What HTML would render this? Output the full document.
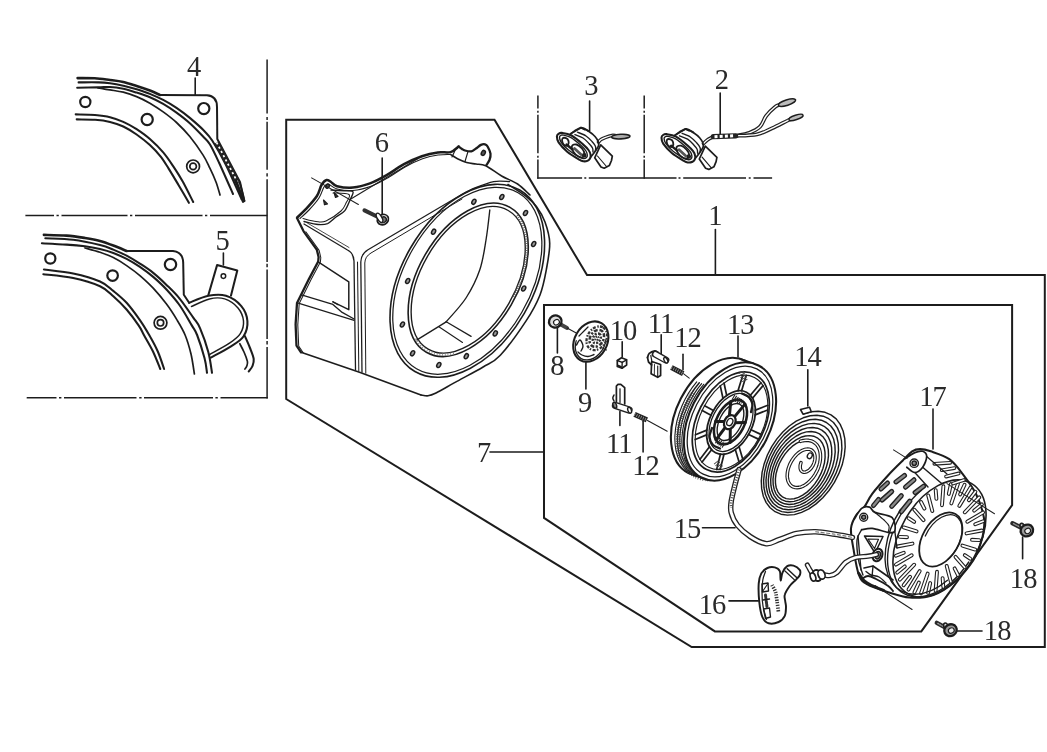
<!DOCTYPE html>
<html><head><meta charset="utf-8"><title>Parts diagram</title>
<style>html,body{margin:0;padding:0;background:#fff}svg{display:block}text{font-family:"Liberation Serif",serif;fill:#2a2a2a;stroke:none}</style></head>
<body>
<svg width="1047" height="752" viewBox="0 0 1047 752" fill="none" stroke="#1e1e1e" stroke-linecap="round" stroke-linejoin="round">
<defs><filter id="soft" x="-2%" y="-2%" width="104%" height="104%"><feGaussianBlur stdDeviation="0.32"/></filter></defs>
<rect x="0" y="0" width="1047" height="752" fill="#fff" stroke="none"/>
<g filter="url(#soft)">
<!-- frames -->
<path d="M286.2 119.8 L494.5 119.8 L587 275.1 L1044.8 275.1 L1044.8 647 L691.7 647 L286.2 399 Z" stroke-width="2.01" fill="none" stroke-linejoin="miter"/>
<path d="M544 305.1 L1012.1 305.1 L1012.1 505.1 L921.3 631.4 L714.9 631.4 L544 517.9 Z" stroke-width="2.01" fill="none" stroke-linejoin="miter"/>
<path d="M267.1 59.6 L267.1 113.4 M267.1 117 L267.1 119.9 M267.1 121.8 L267.1 169.7 M267.1 173.3 L267.1 176.4 M267.1 179.2 L267.1 261.9 M267.1 263.8 L267.1 267.2 M267.1 269.5 L267.1 339 M267.1 340.9 L267.1 344.5 M267.1 346.9 L267.1 398.4" stroke-width="1.5" stroke-linecap="butt"/>
<path d="M25.4 215.5 L54 215.5 M56.5 215.5 L58.8 215.5 M61.5 215.5 L127.5 215.5 M130 215.5 L132.3 215.5 M135 215.5 L202.5 215.5 M205 215.5 L207.3 215.5 M210 215.5 L267.4 215.5" stroke-width="1.5" stroke-linecap="butt"/>
<path d="M26.7 397.7 L56.5 397.7 M59 397.7 L61.4 397.7 M64 397.7 L136.5 397.7 M139.2 397.7 L141.6 397.7 M144 397.7 L213 397.7 M215.4 397.7 L217.8 397.7 M220.5 397.7 L267.8 397.7" stroke-width="1.5" stroke-linecap="butt"/>
<path d="M537.9 95.4 L537.9 108.6 M537.9 110.8 L537.9 112.8 M537.9 114.8 L537.9 153.3 M537.9 155.8 L537.9 157.8 M537.9 159.5 L537.9 178.8" stroke-width="1.5" stroke-linecap="butt"/>
<path d="M644.2 95.4 L644.2 108.6 M644.2 110.8 L644.2 112.8 M644.2 114.8 L644.2 153.3 M644.2 155.8 L644.2 157.8 M644.2 159.5 L644.2 178.8" stroke-width="1.5" stroke-linecap="butt"/>
<path d="M537.2 178.1 L582.1 178.1 M584.3 178.1 L586.3 178.1 M588.8 178.1 L676.5 178.1 M678.5 178.1 L680.5 178.1 M683.2 178.1 L746 178.1 M748.7 178.1 L750.7 178.1 M753.5 178.1 L772.1 178.1" stroke-width="1.5" stroke-linecap="butt"/>
<!-- labels -->
<line x1="195.2" y1="78" x2="195.2" y2="95" stroke-width="1.61" />
<line x1="223.4" y1="253" x2="223.4" y2="265" stroke-width="1.61" />
<line x1="382.2" y1="158" x2="382.2" y2="214" stroke-width="1.61" />
<line x1="589.6" y1="101" x2="589.6" y2="131" stroke-width="1.61" />
<line x1="720.2" y1="93" x2="720.2" y2="134" stroke-width="1.61" />
<line x1="715.4" y1="229.5" x2="715.4" y2="275" stroke-width="1.61" />
<line x1="490" y1="452" x2="544" y2="452" stroke-width="1.61" />
<line x1="557.4" y1="326.5" x2="557.4" y2="353" stroke-width="1.61" />
<line x1="585.9" y1="362.6" x2="585.9" y2="389" stroke-width="1.61" />
<line x1="622.2" y1="341.7" x2="622.2" y2="357" stroke-width="1.61" />
<line x1="661.2" y1="334.7" x2="661.2" y2="358.4" stroke-width="1.61" />
<line x1="683" y1="354.2" x2="683" y2="369.6" stroke-width="1.61" />
<line x1="619.9" y1="411.5" x2="619.9" y2="425.4" stroke-width="1.61" />
<line x1="643.1" y1="421.2" x2="643.1" y2="452" stroke-width="1.61" />
<line x1="738" y1="336" x2="738" y2="357" stroke-width="1.61" />
<line x1="807.8" y1="369.7" x2="807.8" y2="406" stroke-width="1.61" />
<line x1="702.5" y1="527.8" x2="735" y2="527.8" stroke-width="1.61" />
<line x1="729" y1="600.9" x2="758.3" y2="600.9" stroke-width="1.61" />
<line x1="933" y1="409" x2="933" y2="449" stroke-width="1.61" />
<line x1="1022.6" y1="537" x2="1022.6" y2="558.7" stroke-width="1.61" />
<line x1="957" y1="631" x2="982" y2="631" stroke-width="1.61" />
<text x="194" y="75.8" font-size="28.5" text-anchor="middle">4</text>
<text x="222.7" y="249.8" font-size="28.5" text-anchor="middle">5</text>
<text x="381.8" y="152.3" font-size="28.5" text-anchor="middle">6</text>
<text x="591.3" y="95.4" font-size="28.5" text-anchor="middle">3</text>
<text x="721.8" y="89.1" font-size="28.5" text-anchor="middle">2</text>
<text x="715.4" y="225.4" font-size="28.5" text-anchor="middle">1</text>
<text x="484" y="461.8" font-size="28.5" text-anchor="middle">7</text>
<text x="557.4" y="374.8" font-size="28.5" text-anchor="middle">8</text>
<text x="585" y="412.3" font-size="28.5" text-anchor="middle">9</text>
<text x="623" y="339.8" font-size="28.5" text-anchor="middle" letter-spacing="-0.9">10</text>
<text x="660.5" y="332.8" font-size="28.5" text-anchor="middle" letter-spacing="-0.9">11</text>
<text x="687.5" y="346.8" font-size="28.5" text-anchor="middle" letter-spacing="-0.9">12</text>
<text x="618.9" y="452.8" font-size="28.5" text-anchor="middle" letter-spacing="-0.9">11</text>
<text x="645.5" y="475.1" font-size="28.5" text-anchor="middle" letter-spacing="-0.9">12</text>
<text x="740.3" y="334.1" font-size="28.5" text-anchor="middle" letter-spacing="-0.9">13</text>
<text x="807.5" y="366" font-size="28.5" text-anchor="middle" letter-spacing="-0.9">14</text>
<text x="687.1" y="537.9" font-size="28.5" text-anchor="middle" letter-spacing="-0.9">15</text>
<text x="712" y="613.8" font-size="28.5" text-anchor="middle" letter-spacing="-0.9">16</text>
<text x="932.5" y="405.8" font-size="28.5" text-anchor="middle" letter-spacing="-0.9">17</text>
<text x="1023.2" y="587.8" font-size="28.5" text-anchor="middle" letter-spacing="-0.9">18</text>
<text x="997.2" y="639.8" font-size="28.5" text-anchor="middle" letter-spacing="-0.9">18</text>
<!-- inset 4 -->
<path d="M77.6 78.1 C80.5 78.1 89.4 78 94.8 78.3 C100.2 78.6 105.2 79.4 110 80 C114.8 80.6 118.9 81 123.3 82 C127.7 83 132.2 84.6 136.6 86 C141 87.4 146 89.1 149.9 90.6 C153.8 92.1 158.2 94.3 159.9 95" stroke-width="2.64" fill="none" />
<path d="M159.9 95 L207 95.3 Q217 96 217 107 L217.3 139 L240 182 L244.4 201" stroke-width="2.0"/>
<path d="M78.6 82.4 C81.9 82.4 93.5 82.2 98.7 82.4 C103.9 82.6 105.9 82.8 110 83.3 C114.1 83.8 118.9 84.7 123.3 85.7 C127.7 86.7 132.2 87.9 136.6 89.3 C141 90.7 145.5 92.1 149.9 93.9 C154.3 95.7 158.8 97.6 163.2 99.9 C167.6 102.2 172.1 104.9 176.5 107.9 C180.9 110.9 185.4 114.2 189.8 117.9 C194.2 121.6 199.4 126 203.1 129.8 C206.8 133.6 208.4 134.6 212.2 140.5 C216 146.4 221.1 155.2 226 165 C230.9 174.8 239 193.6 241.6 199.3" stroke-width="2.07" fill="none" />
<path d="M77.2 87.8 C80.7 87.7 92.5 87.5 98 87.4 C103.5 87.3 105.8 86.8 110 87 C114.2 87.2 118.9 87.9 123.3 88.8 C127.7 89.7 132.2 91.2 136.6 92.6 C141 94 145.5 95.4 149.9 97.3 C154.3 99.2 158.8 101.4 163.2 103.9 C167.6 106.5 172.1 109.4 176.5 112.6 C180.9 115.8 185.4 119.2 189.8 123.2 C194.2 127.2 199.7 132.9 203.1 136.5 C206.5 140.1 207.3 140.1 210 144.5 C212.7 148.9 215.4 154.8 219.2 163 C223 171.2 230.7 188.8 233 194" stroke-width="2.07" fill="none" />
<path d="M98 87.8 C100 88.2 105.8 89.2 110 89.9 C114.2 90.6 118.9 91.1 123.3 92.2 C127.7 93.3 132.2 94.8 136.6 96.6 C141 98.4 145.5 100.7 149.9 103.2 C154.3 105.8 158.8 108.7 163.2 111.9 C167.6 115.1 172.1 118.4 176.5 122.5 C180.9 126.6 185.4 131.1 189.8 136.5 C194.2 141.9 199.7 149.8 203.1 155.1 C206.5 160.4 207.8 163.9 210 168.4 C212.2 172.9 214.3 177.6 216 182 C217.7 186.4 219.3 192.8 220 195" stroke-width="1.72" fill="none" />
<path d="M75.7 114.4 C78.9 114.5 89.3 114.5 95 115 C100.7 115.5 105.3 116 110 117.2 C114.7 118.4 118.9 119.9 123.3 121.9 C127.7 123.9 132.2 126.3 136.6 129.2 C141 132.1 145.5 135.2 149.9 139.1 C154.3 143 159.2 147.7 163.2 152.4 C167.2 157.1 170.5 162.2 173.8 167.1 C177.1 172 179.8 176.2 183 182 C186.2 187.8 191.5 198.7 193.2 202" stroke-width="2.07" fill="none" />
<path d="M76.7 119.4 C79.8 119.5 89.5 119.4 95 119.8 C100.5 120.2 105.3 120.8 110 121.9 C114.7 123 118.9 124.4 123.3 126.5 C127.7 128.6 132.2 131.4 136.6 134.5 C141 137.6 145.9 141.4 149.9 145.1 C153.9 148.8 157.4 152.5 160.5 156.4 C163.6 160.3 165.5 163.6 168.5 168.4 C171.5 173.2 175.1 179.3 178.5 185 C181.9 190.7 187.2 199.8 188.9 202.8" stroke-width="2.07" fill="none" />
<circle cx="85.3" cy="102" r="5.1" stroke-width="2.18" fill="none" />
<circle cx="147.2" cy="119.5" r="5.6" stroke-width="2.18" fill="none" />
<circle cx="203.8" cy="108.6" r="5.6" stroke-width="2.18" fill="none" />
<circle cx="193.1" cy="166.4" r="6.4" stroke-width="1.72" fill="none" />
<circle cx="193.1" cy="166.4" r="3.3" stroke-width="1.72" fill="none" />
<line x1="216.6" y1="142.5" x2="238.2" y2="183.5" stroke-width="4.83" stroke="#222" stroke-linecap="butt"/>
<line x1="216.6" y1="142.5" x2="238.2" y2="183.5" stroke-width="1.72" stroke="#fff" stroke-dasharray="2.2 2.6" stroke-linecap="butt"/>
<path d="M236 181 L240.5 193 L243.2 201.5" stroke-width="2.76" fill="none" />
<path d="M239.8 183 L242.5 193 L244.4 201" stroke-width="1.84" fill="none" />
<!-- inset 5 -->
<path d="M43.9 234.9 C47.7 235 59.6 235.1 66.5 235.6 C73.3 236.1 79.4 237.1 85 238 C90.6 238.9 95.3 239.7 100 241 C104.7 242.3 108.9 243.9 113.3 245.6 C117.7 247.3 124.4 250.1 126.6 251" stroke-width="2.64" fill="none" />
<path d="M126.6 251 L173 251 Q183 252 183.2 263 L183.8 294.8 L189.1 302.8" stroke-width="2.0"/>
<path d="M45.3 238.3 C49.9 238.6 64.1 238.7 73.2 239.8 C82.3 240.9 93.3 243.4 100 245 C106.7 246.6 108.9 247.8 113.3 249.6 C117.7 251.4 122.2 253.3 126.6 255.6 C131 257.9 135.5 260.7 139.9 263.6 C144.3 266.5 148.8 269.3 153.2 272.9 C157.6 276.4 162.1 280.6 166.5 284.9 C170.9 289.2 175.4 293.4 179.8 298.8 C184.2 304.2 189.7 312.5 193.1 317.4 C196.5 322.3 197.5 322.3 200 328.1 C202.5 333.9 206.3 344.6 208.3 352 C210.3 359.4 211.4 369.3 212 372.8" stroke-width="2.07" fill="none" />
<path d="M41.9 243.3 C46 243.5 59.3 244.1 66.5 244.6 C73.7 245.1 79.4 245.6 85 246.3 C90.6 247 95.3 247.9 100 249 C104.7 250.1 108.9 251.3 113.3 253 C117.7 254.7 122.2 256.6 126.6 258.9 C131 261.2 135.5 263.9 139.9 266.9 C144.3 269.9 148.8 273.1 153.2 276.9 C157.6 280.7 162.1 284.7 166.5 289.5 C170.9 294.3 175.6 299.5 179.8 305.5 C184 311.5 188.9 320.5 191.8 325.4 C194.7 330.3 195 329.6 197.1 335 C199.2 340.4 202.8 351.7 204.5 358 C206.2 364.3 206.6 370.3 207 372.8" stroke-width="2.07" fill="none" />
<path d="M85 248 C87.5 248.7 95.3 250.7 100 252.3 C104.7 253.9 108.9 255.4 113.3 257.6 C117.7 259.8 122.2 262.6 126.6 265.6 C131 268.6 135.5 271.8 139.9 275.6 C144.3 279.4 148.8 283.4 153.2 288.2 C157.6 292.9 162.5 298.8 166.5 304.1 C170.5 309.4 174 315 177.1 320.1 C180.2 325.2 182.8 329.4 185.1 335 C187.4 340.6 189.4 347.5 191 354 C192.6 360.5 193.8 370.7 194.4 374" stroke-width="1.72" fill="none" />
<path d="M43.9 269.5 C48.8 270.2 63.9 271.5 73.2 273.5 C82.5 275.5 93.3 278.6 100 281.5 C106.7 284.4 108.9 287.3 113.3 290.9 C117.7 294.4 122.2 297.9 126.6 302.8 C131 307.7 136.1 314.7 139.9 320.1 C143.7 325.5 146.2 329.8 149.2 335 C152.2 340.2 155.3 345.8 157.8 351.5 C160.3 357.2 163.1 366.1 164.1 369" stroke-width="2.07" fill="none" />
<path d="M43.3 274.2 C48.3 274.8 63.8 276 73.2 278 C82.7 280 93.3 283.2 100 286.2 C106.7 289.2 108.9 292.3 113.3 296.2 C117.7 300.1 122.4 304.6 126.6 309.5 C130.8 314.4 135.7 321.1 138.6 325.4 C141.5 329.6 141.5 330.6 143.9 335 C146.3 339.4 150.3 345.8 153 351.5 C155.7 357.2 159.1 366.1 160.3 369" stroke-width="2.07" fill="none" />
<circle cx="50.3" cy="258.5" r="5.1" stroke-width="2.18" fill="none" />
<circle cx="112.6" cy="275.6" r="5.3" stroke-width="2.18" fill="none" />
<circle cx="170.5" cy="264.5" r="5.7" stroke-width="2.18" fill="none" />
<circle cx="160.5" cy="322.8" r="6.4" stroke-width="1.72" fill="none" />
<circle cx="160.5" cy="322.8" r="3.2" stroke-width="1.72" fill="none" />
<path d="M189.1 302.8 C192.3 301.6 202.2 297 208.3 295.8 C214.5 294.6 220.5 294.1 226 295.8 C231.5 297.5 237.5 301.7 241.1 305.9 C244.7 310.1 247 315.9 247.4 321 C247.8 326.1 246.3 332 243.6 336.2 C240.9 340.4 236.5 342.7 231 346.3 C225.5 349.9 214.2 355.7 210.8 357.6" stroke-width="2.07" fill="none" />
<path d="M191.5 306.5 C194.5 305.2 204 300.2 209.5 298.9 C215 297.6 219.9 297.4 224.7 298.9 C229.4 300.4 234.9 304.3 238 308 C241.1 311.7 243.1 316.7 243.5 321 C243.9 325.3 242.6 329.9 240.3 333.6 C238 337.3 234.6 339.7 229.5 343.2 C224.4 346.7 212.8 352.7 209.5 354.6" stroke-width="1.49" fill="none" />
<path d="M208.3 295.3 L217.1 265 L237.3 270.5 L231 295.6" stroke-width="2.07" fill="none" />
<circle cx="223.4" cy="276.1" r="2.3" stroke-width="1.49" fill="none" />
<path d="M244.9 336.2 C245.8 338.2 248.5 344.2 250 348 C251.5 351.8 253.3 355.9 253.7 358.9 C254.1 361.9 253.3 363.9 252.5 366 C251.7 368.1 249.3 370.6 248.7 371.5" stroke-width="2.07" fill="none" />
<path d="M239.8 343.7 C240.5 345.1 242.7 349.1 244 352 C245.3 354.9 246.9 359.1 247.4 361.4 C247.9 363.7 247.2 364.7 246.8 366 C246.4 367.3 245.2 368.5 244.9 369" stroke-width="1.72" fill="none" />
<!-- housing -->
<ellipse cx="467.3" cy="280.8" rx="104.8" ry="65.6" transform="rotate(-60 467.3 280.8)" stroke-width="1.61" fill="none" />
<ellipse cx="467.3" cy="280.8" rx="101.6" ry="63" transform="rotate(-60 467.3 280.8)" stroke-width="1.26" fill="none" />
<ellipse cx="468.2" cy="279.8" rx="83.6" ry="49.8" transform="rotate(-60 468.2 279.8)" stroke-width="1.61" fill="none" />
<ellipse cx="468.2" cy="279.8" rx="80" ry="47" transform="rotate(-60 468.2 279.8)" stroke-width="1.38" fill="none" />
<path d="M508 184.5 C511.1 186.5 521.7 192.9 526.4 196.6 C531.1 200.3 533.3 202.4 536.4 206.6 C539.5 210.8 542.8 215.9 545 222 C547.2 228.1 549.5 235.2 549.7 243.2 C549.9 251.2 547.9 261.1 546.3 269.8 C544.7 278.5 543.3 286.7 539.9 295.2 C536.5 303.7 532.7 310.9 526.1 320.9 C519.5 330.9 507.5 347.6 500.3 355.3 C493.1 363 490.2 362.7 483.1 367 C476 371.3 465.2 376.8 457.4 381.1 C449.5 385.4 440.9 390.6 436 393 C431.1 395.4 430.5 395.5 428 395.8 C425.5 396.1 422.2 395.1 421 395" stroke-width="1.61" fill="none" />
<path d="M516.9 215.5 A81.8 48.4 -60 0 1 513.5 297.7" stroke-width="2.99" fill="none" stroke="#555" stroke-dasharray="0.8 1.5" stroke-linecap="butt"/>
<path d="M453.7 353.2 A81.8 48.4 -60 0 1 415.4 338.1" stroke-width="2.76" fill="none" stroke="#777" stroke-dasharray="0.7 2" stroke-linecap="butt"/>
<ellipse cx="473.9" cy="201.8" rx="2.7" ry="1.8" transform="rotate(-60 473.9 201.8)" stroke-width="1.49" fill="#999" />
<ellipse cx="501.8" cy="197" rx="2.7" ry="1.8" transform="rotate(-60 501.8 197)" stroke-width="1.49" fill="#999" />
<ellipse cx="525.5" cy="213" rx="2.7" ry="1.8" transform="rotate(-60 525.5 213)" stroke-width="1.49" fill="#999" />
<ellipse cx="533.7" cy="244" rx="2.7" ry="1.8" transform="rotate(-60 533.7 244)" stroke-width="1.49" fill="#999" />
<ellipse cx="523.7" cy="288.5" rx="2.7" ry="1.8" transform="rotate(-60 523.7 288.5)" stroke-width="1.49" fill="#999" />
<ellipse cx="495.3" cy="333.4" rx="2.7" ry="1.8" transform="rotate(-60 495.3 333.4)" stroke-width="1.49" fill="#999" />
<ellipse cx="466.3" cy="356.2" rx="2.7" ry="1.8" transform="rotate(-60 466.3 356.2)" stroke-width="1.49" fill="#999" />
<ellipse cx="438.8" cy="365" rx="2.7" ry="1.8" transform="rotate(-60 438.8 365)" stroke-width="1.49" fill="#999" />
<ellipse cx="412.6" cy="353.3" rx="2.7" ry="1.8" transform="rotate(-60 412.6 353.3)" stroke-width="1.49" fill="#999" />
<ellipse cx="402.4" cy="324.5" rx="2.7" ry="1.8" transform="rotate(-60 402.4 324.5)" stroke-width="1.49" fill="#999" />
<ellipse cx="407.7" cy="281" rx="2.7" ry="1.8" transform="rotate(-60 407.7 281)" stroke-width="1.49" fill="#999" />
<ellipse cx="433.6" cy="231.7" rx="2.7" ry="1.8" transform="rotate(-60 433.6 231.7)" stroke-width="1.49" fill="#999" />
<path d="M489.8 210 C489.2 215 487.7 230 486 240 C484.3 250 483.1 260.1 479.8 269.8 C476.5 279.5 471.6 289.3 466 298 C460.4 306.7 449.5 317.8 446.2 321.8" stroke-width="1.38" fill="none" />
<line x1="446.2" y1="321.8" x2="417" y2="339.9" stroke-width="1.38" />
<line x1="446.2" y1="321.8" x2="471.1" y2="336.4" stroke-width="1.26" />
<line x1="438.5" y1="326.5" x2="462.5" y2="342.4" stroke-width="1.15" />
<path d="M297.2 217.5 C298.7 216 303 212.3 306.3 208.7 C309.6 205.1 314.4 199.9 316.9 196 C319.4 192.1 319.9 187.7 321.5 185 C323.1 182.3 324.9 180.5 326.5 180 C328.1 179.5 329.2 181 331 182 C332.8 183 333.3 185.3 337 186.2 C340.7 187.1 347.5 188.1 353 187.6 C358.5 187.1 364.3 185.5 370 183.4 C375.7 181.3 381.3 178.1 387 174.9 C392.7 171.7 398.2 167.3 404 164.2 C409.8 161.1 416.3 158.3 421.9 156.3 C427.5 154.3 433 153.1 437.8 152.4 C442.6 151.7 447.1 153.1 450.6 152.1 C454.1 151.1 457.3 147.4 458.6 146.5" stroke-width="2.53" fill="none" />
<path d="M458.6 146.5 C459.2 146.9 460.9 148.3 462 149 C463.1 149.7 463.4 150.1 465 150.5 C466.6 150.9 469.5 151.6 471.3 151.3 C473.1 151 474.4 149.6 476 148.5 C477.6 147.4 479.4 145.6 480.9 144.9 C482.4 144.2 483.9 144 485 144.3 C486.1 144.6 486.7 144.9 487.6 146.5 C488.5 148.1 490.2 151.4 490.5 153.7 C490.8 155.9 490.2 158.1 489.5 160 C488.8 161.9 487 164.1 486.5 164.9" stroke-width="2.30" fill="none" />
<path d="M300 218.5 C301.5 217.1 305.8 213.4 309 210 C312.2 206.6 316.5 201.8 319 198 C321.5 194.2 322.5 189.3 324 187 C325.5 184.7 325.8 183.7 328 184 C330.2 184.3 332.8 187.9 337 189 C341.2 190.1 347.3 191 353 190.5 C358.7 190 365.2 188.3 371 186.2 C376.8 184.1 382.3 180.9 388 177.7 C393.7 174.5 399.2 170.2 405 167 C410.8 163.8 417 160.8 422.5 158.8 C428 156.8 433.3 155.7 438 155 C442.7 154.3 448.5 154.6 450.6 154.5" stroke-width="1.15" fill="none" />
<path d="M450.6 154.5 C451.8 155.2 455.3 157.7 458 159 C460.7 160.3 463.6 161.7 466.6 162.5 C469.6 163.3 472.8 163.5 476 164 C479.2 164.5 481.4 163.7 485.7 165.7 C490 167.7 496.3 172.9 501.6 176 C506.9 179.1 512.9 180.8 517.6 184 C522.3 187.2 527.9 193.2 530 195" stroke-width="1.61" fill="none" />
<line x1="455" y1="150.5" x2="452" y2="157" stroke-width="1.15" />
<line x1="468" y1="151.5" x2="465" y2="161.5" stroke-width="1.15" />
<ellipse cx="483.3" cy="152.9" rx="2.6" ry="1.8" transform="rotate(-60 483.3 152.9)" stroke-width="1.49" fill="#555" />
<ellipse cx="327.6" cy="186.2" rx="2.2" ry="1.6" transform="rotate(-60 327.6 186.2)" stroke-width="1.49" fill="#555" />
<line x1="311.6" y1="177.9" x2="358.4" y2="204.5" stroke-width="1.03" />
<path d="M331 190 C333.3 190.1 341.3 190.5 345 190.8 C348.7 191.1 352.2 190.2 353 191.7 C353.8 193.2 351.4 196.8 350 200 C348.6 203.2 346.9 208.1 344.6 210.9 C342.3 213.7 338.8 214.9 336 217 C333.2 219.1 330.6 222.3 327.6 223.6 C324.6 224.8 321.9 224.8 318 224.5 C314.1 224.2 306.3 222 304 221.5" stroke-width="1.38" fill="none" />
<path d="M333 193 C335.7 193.2 346.8 192.8 349 194.5 C351.2 196.2 347.3 200.2 346 203 C344.7 205.8 344.3 208 341 211 C337.7 214 330.2 219.2 326 221 C321.8 222.8 319.8 221.9 316 221.5 C312.2 221.1 305.2 219 303 218.5" stroke-width="1.03" fill="none" />
<path d="M334 192.5 L338 196.5 L335.5 197.5 Z" stroke-width="1.15" fill="#333" />
<path d="M323.5 200 L327.5 204 L324.5 204.8 Z" stroke-width="1.15" fill="#333" />
<line x1="350" y1="199.5" x2="418" y2="158.5" stroke-width="1.15" />
<path d="M297 218 L303.6 231.3 L316.9 249.9 L318.6 257 L318.2 261.5 L308.9 279.1 L301 295.1 L297 303.1 L295.6 324.4 L296.5 345.6 L301 352.3" stroke-width="2.30" fill="none" />
<path d="M305.8 231.8 L319.1 250.4 L320.8 257.5 L320.4 262 L311.1 279.6 L303.2 295.6 L299.2 303.6 L297.8 324.9 L298.7 346.1 L303.2 352.8" stroke-width="1.03" fill="none" />
<path d="M301 352.3 L359.5 372.2 L421 395" stroke-width="1.72" fill="none" />
<path d="M304 224 L347.5 250 Q353.5 253 354 261 L355.5 369.8" stroke-width="1.3"/>
<path d="M306.5 222.5 L349 247.5" stroke-width="0.8"/>
<line x1="357.5" y1="262" x2="358.8" y2="371" stroke-width="1.03" />
<path d="M362 372 L360.8 262 Q361 254 368 249.8 L460 195.5" stroke-width="1.3"/>
<path d="M365.8 373.3 L364.8 263 Q365 256.5 371 253 L462 199" stroke-width="1.0"/>
<path d="M460 195.5 C462.5 194.2 469.4 190.3 475 188 C480.6 185.7 487.9 182.7 493.7 181.6 C499.5 180.5 507 181.6 509.6 181.6" stroke-width="1.38" fill="none" />
<path d="M318.2 261.9 L348.8 281.8 L348.8 309.7 L332.9 301.8" stroke-width="1.49" fill="none" />
<path d="M302.3 295.1 L332.9 304.4 L342.2 312.4 L354.1 319" stroke-width="1.38" fill="none" />
<line x1="298.3" y1="303.1" x2="354.1" y2="320.4" stroke-width="1.15" />
<line x1="332.9" y1="301.8" x2="338" y2="304.8" stroke-width="1.15" />
<line x1="364.5" y1="210.3" x2="378" y2="217" stroke-width="4.14" stroke="#333"/>
<ellipse cx="382.9" cy="219.6" rx="5.8" ry="5" transform="rotate(-30 382.9 219.6)" stroke-width="1.72" fill="#fff" />
<ellipse cx="383.2" cy="219.8" rx="3.3" ry="2.8" transform="rotate(-30 383.2 219.8)" stroke-width="1.38" fill="#777" />
<ellipse cx="379.5" cy="217.8" rx="2.2" ry="5.2" transform="rotate(-30 379.5 217.8)" stroke-width="1.38" fill="#fff" />
<!-- switches -->
<path d="M598.5 142 C598.9 141.6 599.9 140.2 601 139.5 C602.1 138.8 603.2 138.3 605 137.6 C606.8 136.9 610.1 135.8 611.9 135.5 C613.7 135.2 615.3 135.8 616 135.8" stroke-width="3.68" fill="none" stroke="#222"/>
<path d="M598.5 142 C598.9 141.6 599.9 140.2 601 139.5 C602.1 138.8 603.2 138.3 605 137.6 C606.8 136.9 610.1 135.8 611.9 135.5 C613.7 135.2 615.3 135.8 616 135.8" stroke-width="1.26" fill="none" stroke="#fff"/>
<ellipse cx="620.8" cy="136.6" rx="9.2" ry="2.3" transform="rotate(-3 620.8 136.6)" stroke-width="1.61" fill="#aaa" />
<g transform="translate(0 0)">
<path d="M600.7 144.9 L612.3 156.1 L611.5 160.5 L609.3 165.6 L604.2 168.2 L601 167 L594.7 157.8 Z" stroke-width="1.72" fill="#fff" />
<line x1="597.5" y1="156" x2="606.5" y2="166.5" stroke-width="1.15" />
<path d="M570.6 133.8 C572.3 132.8 578 128.1 581 127.7 C584 127.3 587.4 130.6 588.7 131.2" stroke-width="1.72" fill="none" />
<path d="M570.6 133.8 L581 127.7 L584.5 129.5" stroke-width="1.72" fill="none" />
<path d="M581 127.7 C582.3 128.3 586.7 130 589 131.5 C591.3 133 593.5 134.8 595 136.5 C596.5 138.2 597.6 140 598.2 141.5 C598.8 143 598.9 144.2 598.6 145.5 C598.3 146.8 597.5 147.8 596.4 149.5 C595.3 151.2 593.4 153.7 592 155.5 C590.6 157.3 588.5 159.6 587.8 160.4" stroke-width="1.72" fill="none" />
<path d="M574.9 134.6 C576.2 135.2 580.6 136.5 583 138 C585.4 139.5 587.4 141.8 589 143.5 C590.6 145.2 591.8 146.6 592.5 148 C593.2 149.4 592.9 151.3 593 152" stroke-width="1.38" fill="none" />
<path d="M577.5 132.2 C578.9 132.8 583.6 134.4 586 136 C588.4 137.6 590.4 139.8 592 141.5 C593.6 143.2 594.9 145 595.5 146.5 C596.1 148 595.5 149.8 595.5 150.5" stroke-width="1.38" fill="none" />
<path d="M556.9 136.6 C556.9 135.2 557.6 134.4 558.5 133.8 C559.4 133.2 559.8 132.6 562 132.9 C564.2 133.2 568 133.6 571.5 135.5 C575 137.4 579.9 141.7 582.7 144.1 C585.5 146.5 587.2 148.2 588.5 150 C589.8 151.8 590.4 153.4 590.6 154.8 C590.9 156.2 590.5 157.5 590 158.5 C589.5 159.5 588.9 160.1 587.8 160.6 C586.7 161.1 584.9 161.5 583.5 161.3 C582.1 161.1 581.9 161.2 579.2 159.6 C576.5 158 570.6 154.7 567.2 151.8 C563.8 148.9 560.3 144.9 558.6 142.4 C556.9 139.9 556.9 138 556.9 136.6 Z" stroke-width="2.07" fill="#fff" />
<path d="M559.5 137 C559.5 135.9 560.3 135.6 561 135.3 C561.7 135 561.8 134.8 563.5 135.2 C565.2 135.6 568.2 136 571 137.6 C573.8 139.2 578 142.8 580.5 145 C583 147.2 584.9 149.3 586 151 C587.1 152.7 587.2 153.9 587.3 155 C587.4 156.1 587.1 156.9 586.5 157.5 C585.9 158.1 584.7 158.6 583.5 158.5 C582.3 158.4 582 158.6 579.5 157.2 C577 155.8 571.6 152.5 568.5 150 C565.4 147.5 562.5 144.2 561 142 C559.5 139.8 559.5 138.1 559.5 137 Z" stroke-width="1.38" fill="none" />
<path d="M562.5 138.5 C563.1 137.8 565 137.8 566 138.2 C567 138.6 568.2 139.9 568.5 141 C568.8 142.1 568.6 144.2 568 145 C567.4 145.8 565.9 145.9 565 145.5 C564.1 145.1 562.9 143.7 562.5 142.5 C562.1 141.3 561.9 139.2 562.5 138.5 Z" stroke-width="1.84" fill="none" />
<path d="M572 146 C572.5 144.8 574.8 144.1 576.5 144.5 C578.2 144.9 580.7 147 582 148.5 C583.3 150 584.3 152.1 584.5 153.5 C584.7 154.9 584 156.5 583 157 C582 157.5 580.1 157.3 578.5 156.5 C576.9 155.7 574.6 153.8 573.5 152 C572.4 150.2 571.5 147.2 572 146 Z" stroke-width="1.84" fill="none" />
<line x1="574.5" y1="148.5" x2="581" y2="154.5" stroke-width="2.76" stroke="#555"/>
<circle cx="584.2" cy="155.3" r="1.6" stroke-width="1.38" fill="#222" />
<line x1="566.5" y1="144.5" x2="572.5" y2="149.5" stroke-width="2.30" />
</g>
<path d="M703.5 143.5 C704.2 142.8 706.4 140.6 708 139.5 C709.6 138.4 712.5 137.2 713.4 136.8" stroke-width="3.68" fill="none" stroke="#222"/>
<path d="M703.5 143.5 C704.2 142.8 706.4 140.6 708 139.5 C709.6 138.4 712.5 137.2 713.4 136.8" stroke-width="1.26" fill="none" stroke="#fff"/>
<path d="M735.6 135.8 C737.9 135.3 745.2 134.3 749.3 132.8 C753.4 131.3 757.2 129.5 760 126.7 C762.8 123.9 763.6 119.3 766.1 116 C768.6 112.7 773.1 108.6 775.3 106.8 C777.4 105 778.4 105.3 779 105" stroke-width="3.79" fill="none" stroke="#222"/>
<path d="M735.6 135.8 C737.9 135.3 745.2 134.3 749.3 132.8 C753.4 131.3 757.2 129.5 760 126.7 C762.8 123.9 763.6 119.3 766.1 116 C768.6 112.7 773.1 108.6 775.3 106.8 C777.4 105 778.4 105.3 779 105" stroke-width="1.38" fill="none" stroke="#fff"/>
<path d="M735.6 135.8 C739.2 135.6 750.9 135.6 757 134.3 C763.1 133 767.1 130.5 772.2 128.2 C777.3 125.9 784.5 122 787.5 120.6 C790.5 119.1 789.6 119.7 790 119.5" stroke-width="3.79" fill="none" stroke="#222"/>
<path d="M735.6 135.8 C739.2 135.6 750.9 135.6 757 134.3 C763.1 133 767.1 130.5 772.2 128.2 C777.3 125.9 784.5 122 787.5 120.6 C790.5 119.1 789.6 119.7 790 119.5" stroke-width="1.38" fill="none" stroke="#fff"/>
<line x1="713.4" y1="136.7" x2="735.6" y2="135.8" stroke-width="5.29" stroke="#222"/>
<line x1="714.5" y1="136.7" x2="734.5" y2="135.8" stroke-width="2.99" stroke="#fff" stroke-dasharray="3 2.2" stroke-linecap="butt"/>
<ellipse cx="787" cy="102.6" rx="9" ry="2.7" transform="rotate(-18 787 102.6)" stroke-width="1.49" fill="#bbb" />
<ellipse cx="796" cy="117.4" rx="7.4" ry="2.2" transform="rotate(-18 796 117.4)" stroke-width="1.49" fill="#bbb" />
<g transform="translate(104.6 1.2)">
<path d="M600.7 144.9 L612.3 156.1 L611.5 160.5 L609.3 165.6 L604.2 168.2 L601 167 L594.7 157.8 Z" stroke-width="1.72" fill="#fff" />
<line x1="597.5" y1="156" x2="606.5" y2="166.5" stroke-width="1.15" />
<path d="M570.6 133.8 C572.3 132.8 578 128.1 581 127.7 C584 127.3 587.4 130.6 588.7 131.2" stroke-width="1.72" fill="none" />
<path d="M570.6 133.8 L581 127.7 L584.5 129.5" stroke-width="1.72" fill="none" />
<path d="M581 127.7 C582.3 128.3 586.7 130 589 131.5 C591.3 133 593.5 134.8 595 136.5 C596.5 138.2 597.6 140 598.2 141.5 C598.8 143 598.9 144.2 598.6 145.5 C598.3 146.8 597.5 147.8 596.4 149.5 C595.3 151.2 593.4 153.7 592 155.5 C590.6 157.3 588.5 159.6 587.8 160.4" stroke-width="1.72" fill="none" />
<path d="M574.9 134.6 C576.2 135.2 580.6 136.5 583 138 C585.4 139.5 587.4 141.8 589 143.5 C590.6 145.2 591.8 146.6 592.5 148 C593.2 149.4 592.9 151.3 593 152" stroke-width="1.38" fill="none" />
<path d="M577.5 132.2 C578.9 132.8 583.6 134.4 586 136 C588.4 137.6 590.4 139.8 592 141.5 C593.6 143.2 594.9 145 595.5 146.5 C596.1 148 595.5 149.8 595.5 150.5" stroke-width="1.38" fill="none" />
<path d="M556.9 136.6 C556.9 135.2 557.6 134.4 558.5 133.8 C559.4 133.2 559.8 132.6 562 132.9 C564.2 133.2 568 133.6 571.5 135.5 C575 137.4 579.9 141.7 582.7 144.1 C585.5 146.5 587.2 148.2 588.5 150 C589.8 151.8 590.4 153.4 590.6 154.8 C590.9 156.2 590.5 157.5 590 158.5 C589.5 159.5 588.9 160.1 587.8 160.6 C586.7 161.1 584.9 161.5 583.5 161.3 C582.1 161.1 581.9 161.2 579.2 159.6 C576.5 158 570.6 154.7 567.2 151.8 C563.8 148.9 560.3 144.9 558.6 142.4 C556.9 139.9 556.9 138 556.9 136.6 Z" stroke-width="2.07" fill="#fff" />
<path d="M559.5 137 C559.5 135.9 560.3 135.6 561 135.3 C561.7 135 561.8 134.8 563.5 135.2 C565.2 135.6 568.2 136 571 137.6 C573.8 139.2 578 142.8 580.5 145 C583 147.2 584.9 149.3 586 151 C587.1 152.7 587.2 153.9 587.3 155 C587.4 156.1 587.1 156.9 586.5 157.5 C585.9 158.1 584.7 158.6 583.5 158.5 C582.3 158.4 582 158.6 579.5 157.2 C577 155.8 571.6 152.5 568.5 150 C565.4 147.5 562.5 144.2 561 142 C559.5 139.8 559.5 138.1 559.5 137 Z" stroke-width="1.38" fill="none" />
<path d="M562.5 138.5 C563.1 137.8 565 137.8 566 138.2 C567 138.6 568.2 139.9 568.5 141 C568.8 142.1 568.6 144.2 568 145 C567.4 145.8 565.9 145.9 565 145.5 C564.1 145.1 562.9 143.7 562.5 142.5 C562.1 141.3 561.9 139.2 562.5 138.5 Z" stroke-width="1.84" fill="none" />
<path d="M572 146 C572.5 144.8 574.8 144.1 576.5 144.5 C578.2 144.9 580.7 147 582 148.5 C583.3 150 584.3 152.1 584.5 153.5 C584.7 154.9 584 156.5 583 157 C582 157.5 580.1 157.3 578.5 156.5 C576.9 155.7 574.6 153.8 573.5 152 C572.4 150.2 571.5 147.2 572 146 Z" stroke-width="1.84" fill="none" />
<line x1="574.5" y1="148.5" x2="581" y2="154.5" stroke-width="2.76" stroke="#555"/>
<circle cx="584.2" cy="155.3" r="1.6" stroke-width="1.38" fill="#222" />
<line x1="566.5" y1="144.5" x2="572.5" y2="149.5" stroke-width="2.30" />
</g>
<!-- small parts -->
<line x1="559" y1="323.5" x2="567.1" y2="328" stroke-width="3.91" stroke="#444"/>
<line x1="567.1" y1="328" x2="575.8" y2="332.8" stroke-width="1.03" />
<ellipse cx="555.3" cy="321.5" rx="6.4" ry="6" transform="rotate(-30 555.3 321.5)" stroke-width="2.30" fill="#ddd" />
<ellipse cx="556.5" cy="322.2" rx="3" ry="2.6" transform="rotate(-30 556.5 322.2)" stroke-width="1.15" fill="#fff" />
<ellipse cx="590.8" cy="341.6" rx="21.3" ry="16.2" transform="rotate(-60 590.8 341.6)" stroke-width="2.07" fill="#fff" />
<path d="M606 339.4 A19 14 -60 1 1 576.2 340.6" stroke-width="1.26" fill="none" />
<ellipse cx="596.8" cy="338.3" rx="12.5" ry="9.5" transform="rotate(-60 596.8 338.3)" stroke-width="2.30" fill="none" stroke="#333" stroke-dasharray="3 1.6 1.5 1.2" stroke-linecap="butt"/>
<ellipse cx="596.8" cy="338.3" rx="9" ry="6.6" transform="rotate(-60 596.8 338.3)" stroke-width="2.53" fill="none" stroke="#333" stroke-dasharray="2.2 1.4 4 1.8" stroke-linecap="butt"/>
<ellipse cx="596.8" cy="338.3" rx="5.2" ry="3.6" transform="rotate(-60 596.8 338.3)" stroke-width="2.53" fill="none" stroke="#333" stroke-dasharray="2 1.2" stroke-linecap="butt"/>
<ellipse cx="596.8" cy="338.3" rx="2" ry="1.4" transform="rotate(-60 596.8 338.3)" stroke-width="2.07" fill="none" stroke="#333" stroke-dasharray="1.5 1" stroke-linecap="butt"/>
<path d="M578 352 C578.7 352.5 580.3 354.2 582 355 C583.7 355.8 586 356.6 588 356.5 C590 356.4 593 354.8 594 354.5" stroke-width="1.38" fill="none" />
<path d="M576.5 345 C577.1 344.2 578.9 339.8 580 340 C581.1 340.2 582.8 344.2 583 346 C583.2 347.8 581.3 350.2 581 351" stroke-width="1.38" fill="none" />
<path d="M579 336 C579.8 335.2 582.5 332.5 584 331 C585.5 329.5 587.3 327.7 588 327" stroke-width="1.26" fill="none" />
<line x1="603" y1="348.5" x2="606.5" y2="350" stroke-width="1.03" />
<path d="M617.3 360.5 L621.5 357.8 L626.6 359.8 L626.6 365 L622 368.2 L617.3 366.5 Z" stroke-width="1.72" fill="#fff" />
<path d="M617.3 360.5 L622.2 362.3 L626.6 359.8" stroke-width="1.38" fill="none" />
<line x1="622.2" y1="362.3" x2="622" y2="368.2" stroke-width="1.38" />
<line x1="618.2" y1="365.6" x2="621" y2="366.8" stroke-width="1.84" />
<path d="M651.7 361.5 L651.1 373.7 L657.7 377.3 L660.6 375.5 L660.6 364.5 Z" stroke-width="1.72" fill="#fff" />
<line x1="657.7" y1="366" x2="657.7" y2="377" stroke-width="1.15" />
<line x1="654.5" y1="364.5" x2="654.3" y2="375" stroke-width="0.92" />
<path d="M647.5 357.5 C647.8 356.8 648.1 354.5 649.3 353.4 C650.5 352.3 653.3 351.2 654.7 351 C656.1 350.8 657.2 352 657.7 352.2" stroke-width="1.84" fill="none" />
<path d="M647.5 357.5 L648.5 362 L651.7 365" stroke-width="1.72" fill="none" />
<path d="M650.8 355.5 L652 362" stroke-width="1.26" fill="none" />
<line x1="655.3" y1="354.2" x2="665.8" y2="360" stroke-width="7.13" stroke="#222"/>
<line x1="655.5" y1="354.3" x2="665.4" y2="359.8" stroke-width="4.37" stroke="#fff"/>
<ellipse cx="665.8" cy="360.2" rx="1.6" ry="3" transform="rotate(-30 665.8 360.2)" stroke-width="1.38" fill="#fff" />
<line x1="671.4" y1="367.5" x2="683.2" y2="373.6" stroke-width="5.29" stroke="#222" stroke-linecap="butt"/>
<line x1="671.4" y1="367.5" x2="683.2" y2="373.6" stroke-width="2.99" stroke="#999" stroke-linecap="butt" stroke-dasharray="0.8 1.5"/>
<line x1="683.4" y1="373.7" x2="689.2" y2="378.2" stroke-width="1.03" />
<path d="M616.4 401.5 L616.4 386 L618 384.3 L620.8 384.3 L624.7 387.7 L624.7 404" stroke-width="1.72" fill="#fff" />
<line x1="620" y1="388.8" x2="620" y2="402.5" stroke-width="1.26" />
<path d="M614 395 C613.8 395.5 612.8 397 612.8 398 C612.8 399 613.8 400.5 614 401" stroke-width="1.49" fill="none" />
<line x1="615.5" y1="405.5" x2="629" y2="409.9" stroke-width="7.36" stroke="#222"/>
<line x1="615.9" y1="405.6" x2="628.6" y2="409.8" stroke-width="4.60" stroke="#fff"/>
<ellipse cx="629.6" cy="410.2" rx="1.7" ry="3.1" transform="rotate(-20 629.6 410.2)" stroke-width="1.38" fill="#fff" />
<ellipse cx="614.8" cy="405.2" rx="1.7" ry="3.1" transform="rotate(-20 614.8 405.2)" stroke-width="1.38" fill="#888" />
<line x1="634.5" y1="414.3" x2="646.9" y2="419.9" stroke-width="5.29" stroke="#222" stroke-linecap="butt"/>
<line x1="634.5" y1="414.3" x2="646.9" y2="419.9" stroke-width="2.99" stroke="#999" stroke-linecap="butt" stroke-dasharray="0.8 1.5"/>
<line x1="647.5" y1="420.5" x2="667.2" y2="431.2" stroke-width="1.03" />
<!-- pulley 13 -->
<ellipse cx="717" cy="417" rx="62.9" ry="40.6" transform="rotate(-63 717 417)" stroke-width="2.07" fill="#fff" />
<path d="M764.7 416.5 A62.9 40.6 -63 1 1 696.7 381.9" stroke-width="1.15" fill="none" />
<path d="M767.3 417.4 A62.9 40.6 -63 1 1 699.3 382.8" stroke-width="1.49" fill="none" />
<path d="M769.6 418.2 A62.9 40.6 -63 1 1 701.6 383.6" stroke-width="1.15" fill="none" />
<path d="M771.7 418.9 A62.9 40.6 -63 1 1 703.7 384.3" stroke-width="1.15" fill="none" />
<path d="M765.1 428 A62.9 40.6 -63 1 1 693.9 391.7" stroke-width="5.06" fill="none" stroke="#444" stroke-dasharray="0.8 1.5" stroke-linecap="butt"/>
<line x1="740.2" y1="358.9" x2="753.2" y2="363.4" stroke-width="1.72" />
<line x1="693.8" y1="475.1" x2="706.8" y2="479.6" stroke-width="1.72" />
<ellipse cx="730" cy="421.5" rx="62.9" ry="40.6" transform="rotate(-63 730 421.5)" stroke-width="2.07" fill="#fff" />
<ellipse cx="730" cy="421.5" rx="59.1" ry="37.4" transform="rotate(-63 730 421.5)" stroke-width="1.26" fill="none" />
<ellipse cx="730.8" cy="422" rx="53.4" ry="33.6" transform="rotate(-63 730.8 422)" stroke-width="1.72" fill="none" />
<ellipse cx="731.5" cy="422.4" rx="50.4" ry="31.6" transform="rotate(-63 731.5 422.4)" stroke-width="1.15" fill="none" />
<ellipse cx="731" cy="422.5" rx="34" ry="21.2" transform="rotate(-63 731 422.5)" stroke-width="1.84" fill="none" />
<ellipse cx="731" cy="422.5" rx="31" ry="19" transform="rotate(-63 731 422.5)" stroke-width="1.26" fill="none" />
<line x1="750.4" y1="395.3" x2="760.9" y2="382.7" stroke-width="1.72" />
<line x1="752.5" y1="398.2" x2="763" y2="385.6" stroke-width="1.72" />
<line x1="755.4" y1="410.1" x2="767.8" y2="405.3" stroke-width="1.72" />
<line x1="755.2" y1="414.9" x2="767.6" y2="410" stroke-width="1.72" />
<line x1="751" y1="429.7" x2="760.8" y2="434.4" stroke-width="1.72" />
<line x1="748.6" y1="434.5" x2="758.4" y2="439.1" stroke-width="1.72" />
<line x1="739" y1="446.5" x2="742.7" y2="458.9" stroke-width="1.72" />
<line x1="735.3" y1="449.5" x2="739" y2="461.8" stroke-width="1.72" />
<line x1="724" y1="454.2" x2="720.2" y2="469.5" stroke-width="1.72" />
<line x1="720.4" y1="454.2" x2="716.7" y2="469.5" stroke-width="1.72" />
<line x1="711.6" y1="449.7" x2="702.1" y2="462.1" stroke-width="1.72" />
<line x1="709.5" y1="446.8" x2="700" y2="459.2" stroke-width="1.72" />
<line x1="706.6" y1="434.9" x2="695.2" y2="439.5" stroke-width="1.72" />
<line x1="706.8" y1="430.1" x2="695.4" y2="434.8" stroke-width="1.72" />
<line x1="711" y1="415.3" x2="702.2" y2="410.4" stroke-width="1.72" />
<line x1="713.4" y1="410.5" x2="704.6" y2="405.7" stroke-width="1.72" />
<line x1="723" y1="398.5" x2="720.3" y2="385.9" stroke-width="1.72" />
<line x1="726.7" y1="395.5" x2="724" y2="383" stroke-width="1.72" />
<line x1="738" y1="390.8" x2="742.8" y2="375.3" stroke-width="1.72" />
<line x1="741.6" y1="390.8" x2="746.3" y2="375.3" stroke-width="1.72" />
<ellipse cx="730.5" cy="422" rx="24" ry="14" transform="rotate(-63 730.5 422)" stroke-width="2.53" fill="none" />
<ellipse cx="730.5" cy="422" rx="20" ry="11" transform="rotate(-63 730.5 422)" stroke-width="1.38" fill="none" />
<line x1="733.8" y1="417.6" x2="745" y2="404.1" stroke-width="2.99" />
<line x1="734.5" y1="422.7" x2="745.4" y2="422.6" stroke-width="2.99" />
<line x1="730.3" y1="427.7" x2="730.2" y2="442.5" stroke-width="2.99" />
<line x1="725.8" y1="426.6" x2="716" y2="439.9" stroke-width="2.99" />
<line x1="725.1" y1="421.5" x2="715.6" y2="421.4" stroke-width="2.99" />
<line x1="729.3" y1="416.5" x2="730.8" y2="401.5" stroke-width="2.99" />
<ellipse cx="729.8" cy="422.1" rx="7.4" ry="5.4" transform="rotate(-63 729.8 422.1)" stroke-width="2.30" fill="#fff" />
<ellipse cx="729.8" cy="422.1" rx="3.8" ry="2.8" transform="rotate(-63 729.8 422.1)" stroke-width="1.38" fill="none" />
<line x1="733" y1="397" x2="742" y2="402.5" stroke-width="5.75" stroke="#222" stroke-dasharray="1.1 0.9" stroke-linecap="butt"/>
<line x1="716.5" y1="440.5" x2="724" y2="445.5" stroke-width="5.75" stroke="#222" stroke-dasharray="1.1 0.9" stroke-linecap="butt"/>
<path d="M742 393.5 C743.2 394.1 747.2 395.2 749 397 C750.8 398.8 752.2 401.5 752.5 404 C752.8 406.5 751.2 410.7 751 412" stroke-width="2.30" fill="none" />
<path d="M712 428 C711.6 429.5 709.3 434.2 709.5 437 C709.7 439.8 711.2 443.1 713 445 C714.8 446.9 718.8 447.9 720 448.5" stroke-width="2.30" fill="none" />
<line x1="741" y1="372" x2="745" y2="381" stroke-width="5.75" stroke="#444" stroke-dasharray="0.9 1.3" stroke-linecap="butt"/>
<line x1="716" y1="462" x2="721" y2="468" stroke-width="5.75" stroke="#444" stroke-dasharray="0.9 1.3" stroke-linecap="butt"/>
<!-- spring 14 -->
<path d="M803.7 413.9 L811.2 411.8 L818.4 411.2 L825.1 412.3 L831 414.9 L836.2 418.9 L840.2 424.4 L843.1 431 L844.8 438.6 L845.2 446.9 L844.3 455.7 L842.2 464.8 L838.8 473.7 L834.4 482.4 L829 490.5 L822.8 497.7 L816.1 503.9 L808.9 508.9 L801.6 512.4 L794.4 514.6 L787.4 515.1 L780.9 514.2 L775.1 511.7 L770.1 507.8 L766.2 502.6 L763.3 496.2 L761.7 488.9 L761.3 480.9 L762.1 472.4 L764.2 463.7 L767.4 455 L771.7 446.7 L776.9 438.9 L782.8 432 L789.3 426 L796.2 421.2 L803.2 417.8 L810.2 415.8 L816.9 415.3 L823.2 416.2 L828.7 418.7 L833.5 422.5 L837.3 427.6 L840 433.7 L841.5 440.8 L841.9 448.6 L841 456.9 L839 465.3 L835.8 473.7 L831.7 481.8 L826.6 489.4 L820.9 496.1 L814.6 501.9 L807.9 506.6 L801.1 509.9 L794.3 511.9 L787.8 512.5 L781.8 511.6 L776.4 509.3 L771.8 505.6 L768.1 500.8 L765.5 494.8 L764 488 L763.6 480.6 L764.5 472.6 L766.4 464.5 L769.4 456.5 L773.4 448.7 L778.3 441.4 L783.8 434.9 L789.8 429.4 L796.2 424.9 L802.8 421.7 L809.3 419.8 L815.5 419.3 L821.3 420.2 L826.4 422.5 L830.8 426 L834.3 430.8 L836.8 436.5 L838.2 443.1 L838.5 450.4 L837.7 458 L835.8 465.9 L832.8 473.7 L829 481.2 L824.3 488.3 L818.9 494.6 L813.1 500 L806.9 504.3 L800.5 507.4 L794.3 509.3 L788.3 509.8 L782.7 509 L777.7 506.9 L773.4 503.5 L770.1 499 L767.7 493.5 L766.3 487.2 L766 480.2 L766.8 472.9 L768.6 465.4 L771.4 457.9 L775.1 450.7 L779.6 443.9 L784.7 437.9 L790.4 432.7 L796.3 428.6 L802.3 425.6 L808.3 423.9 L814.1 423.4 L819.4 424.2 L824.1 426.3 L828.2 429.6 L831.4 434 L833.7 439.3 L834.9 445.4 L835.2 452.1 L834.4 459.2 L832.6 466.5 L829.9 473.7 L826.3 480.7 L821.9 487.2 L817 493 L811.5 498 L805.8 502 L800 504.9 L794.2 506.6 L788.7 507.1 L783.6 506.4 L779 504.4 L775.1 501.3 L772 497.2 L769.8 492.1 L768.6 486.3 L768.3 479.9 L769.1 473.1 L770.8 466.2 L773.4 459.3 L776.8 452.6 L781 446.4 L785.7 440.9 L790.9 436.1 L796.3 432.3 L801.9 429.5 L807.4 427.9 L812.6 427.5 L817.5 428.2 L821.8 430.1 L825.5 433.1 L828.4 437.2 L830.5 442 L831.6 447.6 L831.8 453.8 L831.1 460.3 L829.4 467 L826.9 473.7 L823.6 480.1 L819.6 486.1 L815 491.4 L810 496 L804.8 499.7 L799.5 502.4 L794.2 504 L789.1 504.5 L784.5 503.8 L780.3 502 L776.8 499.2 L774 495.4 L772 490.8 L770.9 485.4 L770.7 479.6 L771.4 473.4 L773 467 L775.4 460.7 L778.5 454.6 L782.3 448.9 L786.7 443.8 L791.4 439.5 L796.3 436 L801.4 433.4 L806.4 431.9 L811.2 431.5 L815.6 432.2 L819.5 433.9 L822.9 436.7 L825.5 440.3 L827.3 444.8 L828.3 449.9 L828.5 455.5 L827.8 461.5 L826.2 467.6 L823.9 473.7 L820.8 479.5 L817.2 485 L813 489.9 L808.5 494.1 L803.8 497.5 L798.9 499.9 L794.1 501.4 L789.6 501.8 L785.4 501.2 L781.6 499.6 L778.4 497 L775.9 493.6 L774.2 489.4 L773.2 484.6 L773 479.2 L773.7 473.6 L775.2 467.8 L777.4 462.1 L780.3 456.6 L783.7 451.4 L787.6 446.8 L791.9 442.8 L796.4 439.7 L800.9 437.3 L805.4 436 L809.7 435.6 L813.7 436.2 L817.2 437.8 L820.2 440.2 L822.5 443.5 L824.2 447.6 L825 452.2 L825.1 457.3 L824.5 462.6 L823 468.2 L820.9 473.7 L818.1 478.9 L814.8 483.9 L811.1 488.3 L807 492.1 L802.7 495.2 L798.4 497.4 L794.1 498.7 L790 499.1 L786.2 498.6 L782.9 497.2 L780.1 494.9 L777.9 491.8 L776.3 488 L775.5 483.7 L775.4 478.9 L776 473.9 L777.4 468.7 L779.4 463.5 L782 458.6 L785.1 453.9 L788.6 449.8 L792.4 446.2 L796.4 443.3 L800.5 441.3" stroke-width="1.45"/>
<path d="M800.5 441.3 L803.4 440.6 L806.1 440.3 L808.7 440.4 L811.1 440.9 L813.3 441.9 L815.2 443.2 L816.9 444.8 L818.2 446.8 L819.3 449.1 L820 451.5 L820.4 454.2 L820.5 457 L820.3 460 L819.8 462.9 L819 465.9 L817.9 468.9 L816.6 471.7 L815.1 474.4 L813.4 477 L811.5 479.3 L809.6 481.4 L807.5 483.2 L805.4 484.8 L803.3 486 L801.2 486.9 L799.1 487.4 L797.2 487.6 L795.3 487.5 L793.6 487.1 L792.1 486.4 L790.7 485.3 L789.6 484 L788.6 482.4 L787.9 480.6 L787.5 478.7 L787.2 476.6 L787.3 474.3 L787.5 472 L788 469.6 L788.7 467.3 L789.6 464.9 L790.7 462.6 L791.9 460.5 L793.3 458.4 L794.8 456.5 L796.4 454.8 L798 453.3 L799.7 452 L801.4 450.9 L803.1 450.1 L804.8 449.5 L806.3 449.2 L807.8 449.1 L809.2 449.2 L810.5 449.6 L811.6 450.2 L812.6 451 L813.5 451.9 L814.1 453 L814.6 454.3 L814.9 455.6 L815 457.1 L815 458.6 L814.8 460.1 L814.5 461.6 L814 463.1 L813.4 464.5 L812.7 465.9 L811.9 467.1 L811 468.3 L810.1 469.3 L809.1 470.2 L808.1 470.9 L807.1 471.5 L806.1 471.9 L805.2 472.1 L804.3 472.2 L803.4 472.1 L802.7 471.9 L802 471.5 L801.4 470.9 L800.9 470.3 L800.6 469.5 L800.3 468.7 L800.2 467.7 L800.2 466.7 L800.2 465.7 L800.4 464.7 L800.7 463.6 L801 462.6" stroke-width="3.6"/>
<path d="M800.5 441.3 L803.4 440.6 L806.1 440.3 L808.7 440.4 L811.1 440.9 L813.3 441.9 L815.2 443.2 L816.9 444.8 L818.2 446.8 L819.3 449.1 L820 451.5 L820.4 454.2 L820.5 457 L820.3 460 L819.8 462.9 L819 465.9 L817.9 468.9 L816.6 471.7 L815.1 474.4 L813.4 477 L811.5 479.3 L809.6 481.4 L807.5 483.2 L805.4 484.8 L803.3 486 L801.2 486.9 L799.1 487.4 L797.2 487.6 L795.3 487.5 L793.6 487.1 L792.1 486.4 L790.7 485.3 L789.6 484 L788.6 482.4 L787.9 480.6 L787.5 478.7 L787.2 476.6 L787.3 474.3 L787.5 472 L788 469.6 L788.7 467.3 L789.6 464.9 L790.7 462.6 L791.9 460.5 L793.3 458.4 L794.8 456.5 L796.4 454.8 L798 453.3 L799.7 452 L801.4 450.9 L803.1 450.1 L804.8 449.5 L806.3 449.2 L807.8 449.1 L809.2 449.2 L810.5 449.6 L811.6 450.2 L812.6 451 L813.5 451.9 L814.1 453 L814.6 454.3 L814.9 455.6 L815 457.1 L815 458.6 L814.8 460.1 L814.5 461.6 L814 463.1 L813.4 464.5 L812.7 465.9 L811.9 467.1 L811 468.3 L810.1 469.3 L809.1 470.2 L808.1 470.9 L807.1 471.5 L806.1 471.9 L805.2 472.1 L804.3 472.2 L803.4 472.1 L802.7 471.9 L802 471.5 L801.4 470.9 L800.9 470.3 L800.6 469.5 L800.3 468.7 L800.2 467.7 L800.2 466.7 L800.2 465.7 L800.4 464.7 L800.7 463.6 L801 462.6" stroke-width="1.4" stroke="#fff"/>
<ellipse cx="809.8" cy="455.8" rx="3" ry="2.3" transform="rotate(-60 809.8 455.8)" stroke-width="1.38" fill="#fff" />
<path d="M800.5 409.5 L809.5 407.2 L811.3 411.8 L803 414.2 Z" stroke-width="1.61" fill="#fff" />
<!-- cover 17 -->
<path d="M920.1 449.1 C923.2 449.1 925.8 449.6 930.7 451.3 C935.6 453 944 455.4 949.3 459.2 C954.6 463 958.2 468.1 962.6 473.9 C967 479.7 972.4 486.5 975.9 493.8 C979.4 501.1 982.8 510.6 983.9 517.7 C985 524.8 984.4 529.3 982.6 536.4 C980.8 543.5 977.9 552.8 973.3 560.3 C968.6 567.8 961.4 575.8 954.7 581.6 C948.1 587.4 941 592.2 933.4 594.9 C925.8 597.5 916.9 598 909.4 597.5 C901.9 597 895.3 594.4 888.2 592.2 C881.1 590 871.8 587.1 866.9 584.2 C862 581.3 861.1 580.6 858.9 574.9 C856.7 569.1 854.9 557.5 853.6 549.7 C852.3 542 850.5 534.2 851 528.4 C851.5 522.6 854.1 518.6 856.3 515.1 C858.5 511.6 861.6 510.7 864.2 507.1 C866.9 503.6 868.2 499.1 872.2 493.8 C876.2 488.5 882.9 481 888.2 475.2 C893.5 469.4 900.1 463.2 904.1 459.2 C908.1 455.2 909.4 453 912.1 451.3 C914.8 449.6 917 449.1 920.1 449.1 Z" stroke-width="2.07" fill="#fff" />
<ellipse cx="939.5" cy="538.5" rx="63.6" ry="39.3" transform="rotate(-60 939.5 538.5)" stroke-width="1.61" fill="none" />
<path d="M968.8 562 A65.6 41.3 -60 1 1 921.4 490.2" stroke-width="1.38" fill="none" />
<ellipse cx="940.8" cy="539.5" rx="29.4" ry="18.3" transform="rotate(-60 940.8 539.5)" stroke-width="1.84" fill="none" />
<path d="M925.3 536.1 A27.6 16.8 -60 1 1 947.7 559.4" stroke-width="1.26" fill="none" />
<line x1="959.3" y1="505.9" x2="970.5" y2="487.4" stroke-width="3.91" stroke="#222"/>
<line x1="959.3" y1="505.9" x2="970.5" y2="487.4" stroke-width="1.72" stroke="#fff"/>
<line x1="968.9" y1="500.2" x2="975.4" y2="491.7" stroke-width="3.91" stroke="#222"/>
<line x1="968.9" y1="500.2" x2="975.4" y2="491.7" stroke-width="1.72" stroke="#fff"/>
<line x1="964.8" y1="512.3" x2="979.2" y2="497.4" stroke-width="3.91" stroke="#222"/>
<line x1="964.8" y1="512.3" x2="979.2" y2="497.4" stroke-width="1.72" stroke="#fff"/>
<line x1="974.2" y1="510.6" x2="981.8" y2="504.4" stroke-width="3.91" stroke="#222"/>
<line x1="974.2" y1="510.6" x2="981.8" y2="504.4" stroke-width="1.72" stroke="#fff"/>
<line x1="967.3" y1="521.8" x2="983.1" y2="512.4" stroke-width="3.91" stroke="#222"/>
<line x1="967.3" y1="521.8" x2="983.1" y2="512.4" stroke-width="1.72" stroke="#fff"/>
<line x1="975.2" y1="524.3" x2="983.1" y2="521.2" stroke-width="3.91" stroke="#222"/>
<line x1="975.2" y1="524.3" x2="983.1" y2="521.2" stroke-width="1.72" stroke="#fff"/>
<line x1="966.5" y1="533.4" x2="981.8" y2="530.5" stroke-width="3.91" stroke="#222"/>
<line x1="966.5" y1="533.4" x2="981.8" y2="530.5" stroke-width="1.72" stroke="#fff"/>
<line x1="972" y1="539.8" x2="979.2" y2="540.1" stroke-width="3.91" stroke="#222"/>
<line x1="972" y1="539.8" x2="979.2" y2="540.1" stroke-width="1.72" stroke="#fff"/>
<line x1="962.4" y1="545.6" x2="975.3" y2="549.6" stroke-width="3.91" stroke="#222"/>
<line x1="962.4" y1="545.6" x2="975.3" y2="549.6" stroke-width="1.72" stroke="#fff"/>
<line x1="964.8" y1="555.1" x2="970.4" y2="558.8" stroke-width="3.91" stroke="#222"/>
<line x1="964.8" y1="555.1" x2="970.4" y2="558.8" stroke-width="1.72" stroke="#fff"/>
<line x1="955.5" y1="556.9" x2="964.6" y2="567.3" stroke-width="3.91" stroke="#222"/>
<line x1="955.5" y1="556.9" x2="964.6" y2="567.3" stroke-width="1.72" stroke="#fff"/>
<line x1="954.6" y1="568.4" x2="958" y2="575" stroke-width="3.91" stroke="#222"/>
<line x1="954.6" y1="568.4" x2="958" y2="575" stroke-width="1.72" stroke="#fff"/>
<line x1="946.7" y1="566" x2="950.8" y2="581.6" stroke-width="3.91" stroke="#222"/>
<line x1="946.7" y1="566" x2="950.8" y2="581.6" stroke-width="1.72" stroke="#fff"/>
<line x1="942.6" y1="578.1" x2="943.3" y2="586.9" stroke-width="3.91" stroke="#222"/>
<line x1="942.6" y1="578.1" x2="943.3" y2="586.9" stroke-width="1.72" stroke="#fff"/>
<line x1="937" y1="571.8" x2="935.6" y2="590.7" stroke-width="3.91" stroke="#222"/>
<line x1="937" y1="571.8" x2="935.6" y2="590.7" stroke-width="1.72" stroke="#fff"/>
<line x1="930.2" y1="583.1" x2="928.1" y2="592.9" stroke-width="3.91" stroke="#222"/>
<line x1="930.2" y1="583.1" x2="928.1" y2="592.9" stroke-width="1.72" stroke="#fff"/>
<line x1="927.7" y1="573.6" x2="921" y2="593.4" stroke-width="3.91" stroke="#222"/>
<line x1="927.7" y1="573.6" x2="921" y2="593.4" stroke-width="1.72" stroke="#fff"/>
<line x1="918.9" y1="582.6" x2="914.4" y2="592.3" stroke-width="3.91" stroke="#222"/>
<line x1="918.9" y1="582.6" x2="914.4" y2="592.3" stroke-width="1.72" stroke="#fff"/>
<line x1="919.7" y1="571.1" x2="908.5" y2="589.6" stroke-width="3.91" stroke="#222"/>
<line x1="919.7" y1="571.1" x2="908.5" y2="589.6" stroke-width="1.72" stroke="#fff"/>
<line x1="910.1" y1="576.8" x2="903.6" y2="585.3" stroke-width="3.91" stroke="#222"/>
<line x1="910.1" y1="576.8" x2="903.6" y2="585.3" stroke-width="1.72" stroke="#fff"/>
<line x1="914.2" y1="564.7" x2="899.8" y2="579.6" stroke-width="3.91" stroke="#222"/>
<line x1="914.2" y1="564.7" x2="899.8" y2="579.6" stroke-width="1.72" stroke="#fff"/>
<line x1="904.8" y1="566.4" x2="897.2" y2="572.6" stroke-width="3.91" stroke="#222"/>
<line x1="904.8" y1="566.4" x2="897.2" y2="572.6" stroke-width="1.72" stroke="#fff"/>
<line x1="911.7" y1="555.2" x2="895.9" y2="564.6" stroke-width="3.91" stroke="#222"/>
<line x1="911.7" y1="555.2" x2="895.9" y2="564.6" stroke-width="1.72" stroke="#fff"/>
<line x1="903.8" y1="552.7" x2="895.9" y2="555.8" stroke-width="3.91" stroke="#222"/>
<line x1="903.8" y1="552.7" x2="895.9" y2="555.8" stroke-width="1.72" stroke="#fff"/>
<line x1="912.5" y1="543.6" x2="897.2" y2="546.5" stroke-width="3.91" stroke="#222"/>
<line x1="912.5" y1="543.6" x2="897.2" y2="546.5" stroke-width="1.72" stroke="#fff"/>
<line x1="907" y1="537.2" x2="899.8" y2="536.9" stroke-width="3.91" stroke="#222"/>
<line x1="907" y1="537.2" x2="899.8" y2="536.9" stroke-width="1.72" stroke="#fff"/>
<line x1="916.6" y1="531.4" x2="903.7" y2="527.4" stroke-width="3.91" stroke="#222"/>
<line x1="916.6" y1="531.4" x2="903.7" y2="527.4" stroke-width="1.72" stroke="#fff"/>
<line x1="914.2" y1="521.9" x2="908.6" y2="518.2" stroke-width="3.91" stroke="#222"/>
<line x1="914.2" y1="521.9" x2="908.6" y2="518.2" stroke-width="1.72" stroke="#fff"/>
<line x1="923.5" y1="520.1" x2="914.4" y2="509.7" stroke-width="3.91" stroke="#222"/>
<line x1="923.5" y1="520.1" x2="914.4" y2="509.7" stroke-width="1.72" stroke="#fff"/>
<line x1="924.4" y1="508.6" x2="921" y2="502" stroke-width="3.91" stroke="#222"/>
<line x1="924.4" y1="508.6" x2="921" y2="502" stroke-width="1.72" stroke="#fff"/>
<line x1="932.3" y1="511" x2="928.2" y2="495.4" stroke-width="3.91" stroke="#222"/>
<line x1="932.3" y1="511" x2="928.2" y2="495.4" stroke-width="1.72" stroke="#fff"/>
<line x1="936.4" y1="498.9" x2="935.7" y2="490.1" stroke-width="3.91" stroke="#222"/>
<line x1="936.4" y1="498.9" x2="935.7" y2="490.1" stroke-width="1.72" stroke="#fff"/>
<line x1="942" y1="505.2" x2="943.4" y2="486.3" stroke-width="3.91" stroke="#222"/>
<line x1="942" y1="505.2" x2="943.4" y2="486.3" stroke-width="1.72" stroke="#fff"/>
<line x1="948.8" y1="493.9" x2="950.9" y2="484.1" stroke-width="3.91" stroke="#222"/>
<line x1="948.8" y1="493.9" x2="950.9" y2="484.1" stroke-width="1.72" stroke="#fff"/>
<line x1="951.3" y1="503.4" x2="958" y2="483.6" stroke-width="3.91" stroke="#222"/>
<line x1="951.3" y1="503.4" x2="958" y2="483.6" stroke-width="1.72" stroke="#fff"/>
<line x1="960.1" y1="494.4" x2="964.6" y2="484.7" stroke-width="3.91" stroke="#222"/>
<line x1="960.1" y1="494.4" x2="964.6" y2="484.7" stroke-width="1.72" stroke="#fff"/>
<line x1="896" y1="481.9" x2="904.5" y2="475.5" stroke-width="5.06" stroke="#222"/>
<line x1="896" y1="481.9" x2="904.5" y2="475.5" stroke-width="2.30" stroke="#8a8a8a"/>
<line x1="905.5" y1="487.2" x2="914" y2="479.8" stroke-width="5.06" stroke="#222"/>
<line x1="905.5" y1="487.2" x2="914" y2="479.8" stroke-width="2.30" stroke="#8a8a8a"/>
<line x1="915.1" y1="492.6" x2="923.6" y2="486.2" stroke-width="5.06" stroke="#222"/>
<line x1="915.1" y1="492.6" x2="923.6" y2="486.2" stroke-width="2.30" stroke="#8a8a8a"/>
<line x1="882.1" y1="500" x2="891.7" y2="491.5" stroke-width="5.06" stroke="#222"/>
<line x1="882.1" y1="500" x2="891.7" y2="491.5" stroke-width="2.30" stroke="#8a8a8a"/>
<line x1="891.7" y1="506.4" x2="901.3" y2="495.7" stroke-width="5.06" stroke="#222"/>
<line x1="891.7" y1="506.4" x2="901.3" y2="495.7" stroke-width="2.30" stroke="#8a8a8a"/>
<line x1="901.3" y1="511.7" x2="909.8" y2="501.1" stroke-width="5.06" stroke="#222"/>
<line x1="901.3" y1="511.7" x2="909.8" y2="501.1" stroke-width="2.30" stroke="#8a8a8a"/>
<line x1="881" y1="489" x2="887.5" y2="483" stroke-width="5.06" stroke="#222"/>
<line x1="881" y1="489" x2="887.5" y2="483" stroke-width="2.30" stroke="#8a8a8a"/>
<line x1="873.5" y1="505.5" x2="878.5" y2="499.5" stroke-width="5.06" stroke="#222"/>
<line x1="873.5" y1="505.5" x2="878.5" y2="499.5" stroke-width="2.30" stroke="#8a8a8a"/>
<line x1="934.3" y1="463.8" x2="950.2" y2="462.8" stroke-width="3.68" stroke="#222"/>
<line x1="934.3" y1="463.8" x2="950.2" y2="462.8" stroke-width="1.50" stroke="#fff"/>
<line x1="941.7" y1="470.2" x2="954.5" y2="468.1" stroke-width="3.68" stroke="#222"/>
<line x1="941.7" y1="470.2" x2="954.5" y2="468.1" stroke-width="1.50" stroke="#fff"/>
<line x1="946" y1="476.6" x2="958.7" y2="473.4" stroke-width="3.68" stroke="#222"/>
<line x1="946" y1="476.6" x2="958.7" y2="473.4" stroke-width="1.50" stroke="#fff"/>
<line x1="953" y1="483.5" x2="964" y2="480" stroke-width="3.68" stroke="#222"/>
<line x1="953" y1="483.5" x2="964" y2="480" stroke-width="1.50" stroke="#fff"/>
<path d="M904.1 459.2 C905.9 458.1 911.7 453.9 914.8 452.6 C917.9 451.3 920.7 450.6 922.7 451.3 C924.7 452 926.7 454 926.7 456.6 C926.7 459.2 924.7 464.6 922.7 467.2 C920.7 469.8 917.4 472.5 914.8 472.5 C912.1 472.5 908.1 468.1 906.8 467.2" stroke-width="1.72" fill="#fff" />
<circle cx="914.2" cy="463.2" r="4.2" stroke-width="1.38" fill="none" />
<circle cx="914.2" cy="463.2" r="2.2" stroke-width="1.49" fill="#888" />
<line x1="922.7" y1="467.2" x2="941.4" y2="483.2" stroke-width="1.49" />
<line x1="926.7" y1="456.6" x2="947" y2="474" stroke-width="1.26" />
<line x1="914.8" y1="472.5" x2="928" y2="487" stroke-width="1.38" />
<path d="M853.6 520.4 C854.9 518.4 858.9 510.6 861.6 508.4 C864.3 506.2 867.4 506.4 869.6 507.1 C871.8 507.8 871.1 510.6 874.9 512.4 C878.7 514.2 888.9 514.6 892.2 517.7 C895.5 520.8 895.5 528.5 894.8 531 C894.1 533.5 892 532.8 888.2 532.4 C884.4 532 876.6 528.8 872.2 528.4 C867.8 528 863.4 529.5 861.6 529.7" stroke-width="1.72" fill="#fff" />
<circle cx="863.7" cy="517.2" r="4" stroke-width="1.38" fill="none" />
<circle cx="863.7" cy="517.2" r="2" stroke-width="1.49" fill="#888" />
<line x1="894.8" y1="531" x2="897" y2="548" stroke-width="1.38" />
<path d="M874.9 512.4 C876.4 513.7 881.6 517.7 884 520 C886.4 522.3 888.3 523.9 889 526 C889.7 528.1 888.3 531.3 888.2 532.4" stroke-width="1.15" fill="none" />
<path d="M864.5 536 L883 536.5 L875 553 Z" stroke-width="1.49" fill="none" />
<path d="M868 539 L878.5 539.3 L874.5 548.5 Z" stroke-width="1.15" fill="none" />
<line x1="858" y1="536" x2="861" y2="570" stroke-width="1.38" />
<path d="M861.6 529.7 C860.8 531.4 857.5 535 857 540 C856.5 545 857.5 554.2 858.5 560 C859.5 565.8 862.2 572.5 863 575" stroke-width="1.38" fill="none" />
<ellipse cx="877.5" cy="555" rx="4.8" ry="6.4" transform="rotate(20 877.5 555)" stroke-width="2.07" fill="#fff" />
<ellipse cx="877.8" cy="555.2" rx="2.6" ry="3.8" transform="rotate(20 877.8 555.2)" stroke-width="1.38" fill="#888" />
<path d="M861.6 578.9 C862.7 578.4 865.6 576 868 576 C870.4 576 872.6 577.3 876 579 C879.4 580.7 885.4 584 888.2 586 C891 588 892.2 590.2 893 591" stroke-width="1.84" fill="none" />
<path d="M864 568 L873 566 L893 580" stroke-width="1.61" fill="none" />
<line x1="873" y1="566" x2="872" y2="577" stroke-width="1.38" />
<path d="M858.5 573 C859.4 574.2 861.8 578.4 864 580.5 C866.2 582.6 868.7 583.8 872 585.5 C875.3 587.2 882 589.7 884 590.5" stroke-width="2.76" fill="none" />
<path d="M866 571.5 C866.8 572.1 868.8 574.1 871 575 C873.2 575.9 876.5 575.7 879 577 C881.5 578.3 884.8 582 886 583" stroke-width="1.38" fill="none" />
<path d="M947.5 580.3 A64.6 40.8 -60 0 1 900.6 509.5" stroke-width="1.38" fill="none" />
<line x1="893.5" y1="449.9" x2="907" y2="458.4" stroke-width="1.03" />
<line x1="947" y1="483.6" x2="994.5" y2="513.8" stroke-width="1.03" />
<line x1="874.9" y1="585.5" x2="912.1" y2="609.5" stroke-width="1.03" />
<!-- bolts 18 -->
<line x1="1012.5" y1="523.2" x2="1022.9" y2="528.5" stroke-width="4.37" stroke="#2a2a2a"/>
<line x1="1013.5" y1="523.7" x2="1021.9" y2="528" stroke-width="1.38" stroke="#999" stroke-dasharray="1 1.4"/>
<ellipse cx="1023.7" cy="528.8" rx="2.4" ry="6" transform="rotate(-28 1023.7 528.8)" stroke-width="1.72" fill="#ddd" />
<ellipse cx="1026.9" cy="530.5" rx="6.4" ry="5.8" transform="rotate(-30 1026.9 530.5)" stroke-width="2.30" fill="#999" />
<ellipse cx="1027.7" cy="530.9" rx="3" ry="2.6" transform="rotate(-30 1027.7 530.9)" stroke-width="1.15" fill="#eee" />
<line x1="936.8" y1="622.9" x2="946.5" y2="628.2" stroke-width="4.37" stroke="#2a2a2a"/>
<line x1="937.8" y1="623.4" x2="945.5" y2="627.7" stroke-width="1.38" stroke="#999" stroke-dasharray="1 1.4"/>
<ellipse cx="947.3" cy="628.5" rx="2.4" ry="6" transform="rotate(-28 947.3 628.5)" stroke-width="1.72" fill="#ddd" />
<ellipse cx="950.5" cy="630.2" rx="6.4" ry="5.8" transform="rotate(-30 950.5 630.2)" stroke-width="2.30" fill="#999" />
<ellipse cx="951.3" cy="630.6" rx="3" ry="2.6" transform="rotate(-30 951.3 630.6)" stroke-width="1.15" fill="#eee" />
<!-- rope 15 -->
<path d="M739.1 469.6 C738.5 472 736.5 478.6 735.2 483.9 C733.9 489.2 731.9 496.7 731.2 501.5 C730.5 506.3 730.2 508.6 731.2 512.6 C732.2 516.6 734.3 521.4 737.5 525.4 C740.7 529.4 745.5 533.5 750.3 536.6 C755.1 539.7 761.5 543.2 766.3 543.7 C771.1 544.2 774 541.4 779 539.7 C784 538 790.5 534.7 796.6 533.4 C802.7 532.1 809.3 531.7 815.7 531.8 C822.1 531.9 828.7 533.3 834.8 534.2 C840.9 535.1 849.5 536.9 852.4 537.4" stroke-width="5.52" fill="none" stroke="#222"/>
<path d="M739.1 469.6 C738.5 472 736.5 478.6 735.2 483.9 C733.9 489.2 731.9 496.7 731.2 501.5 C730.5 506.3 730.2 508.6 731.2 512.6 C732.2 516.6 734.3 521.4 737.5 525.4 C740.7 529.4 745.5 533.5 750.3 536.6 C755.1 539.7 761.5 543.2 766.3 543.7 C771.1 544.2 774 541.4 779 539.7 C784 538 790.5 534.7 796.6 533.4 C802.7 532.1 809.3 531.7 815.7 531.8 C822.1 531.9 828.7 533.3 834.8 534.2 C840.9 535.1 849.5 536.9 852.4 537.4" stroke-width="2.88" fill="none" stroke="#fff"/>
<path d="M739.1 469.6 C738.5 472 736.5 478.6 735.2 483.9 C733.9 489.2 731.9 497.5 731.2 501.5 C730.5 505.5 731.2 506.9 731.2 508" stroke-width="2.53" fill="none" stroke="#444" stroke-dasharray="1 1.6" stroke-linecap="butt"/>
<path d="M815.7 531.8 C818.9 532.2 828.7 533.3 834.8 534.2 C840.9 535.1 849.5 536.9 852.4 537.4" stroke-width="1.15" fill="none" stroke="#777" stroke-dasharray="3 2.5"/>
<path d="M876.5 554.5 C875.1 554.8 871.5 555.7 868 556.2 C864.5 556.7 859.2 556.5 855.5 557.5 C851.8 558.5 848.7 559.9 845.6 562.4 C842.5 564.9 839.5 570.2 836.9 572.4 C834.3 574.6 832.1 575.1 830 575.5 C827.9 575.9 825.4 575 824.5 574.9" stroke-width="5.29" fill="none" stroke="#222"/>
<path d="M876.5 554.5 C875.1 554.8 871.5 555.7 868 556.2 C864.5 556.7 859.2 556.5 855.5 557.5 C851.8 558.5 848.7 559.9 845.6 562.4 C842.5 564.9 839.5 570.2 836.9 572.4 C834.3 574.6 832.1 575.1 830 575.5 C827.9 575.9 825.4 575 824.5 574.9" stroke-width="2.64" fill="none" stroke="#fff"/>
<path d="M807.3 565 C807.7 565.7 808.7 567.6 809.5 569 C810.3 570.4 811.7 572.8 812.1 573.6" stroke-width="5.06" fill="none" stroke="#222"/>
<path d="M807.3 565 C807.7 565.7 808.7 567.6 809.5 569 C810.3 570.4 811.7 572.8 812.1 573.6" stroke-width="2.42" fill="none" stroke="#fff"/>
<ellipse cx="817" cy="575.5" rx="4.6" ry="5.6" transform="rotate(-20 817 575.5)" stroke-width="1.84" fill="#fff" />
<ellipse cx="821.5" cy="574.5" rx="3.4" ry="4.8" transform="rotate(-20 821.5 574.5)" stroke-width="1.72" fill="#fff" />
<ellipse cx="813" cy="577" rx="2.6" ry="4.2" transform="rotate(-20 813 577)" stroke-width="1.61" fill="#fff" />
<!-- handle 16 -->
<path d="M758.7 583.6 C759 578.8 759.8 576.2 761.2 573.6 C762.7 571 765.1 569 767.4 568 C769.7 567 772.7 566.9 774.8 567.4 C776.9 567.9 778.8 568.9 779.8 571.1 C780.8 573.3 780.1 580.3 780.6 580.5 C781.1 580.7 781.5 574.8 782.6 572.4 C783.7 570 785.4 567.3 787.2 566.2 C789 565.1 791.4 565 793.5 565.6 C795.6 566.2 798.6 568.4 799.7 569.9 C800.8 571.4 800.5 573.2 799.9 574.9 C799.3 576.5 797.6 577.9 795.9 579.8 C794.2 581.6 791.6 583.5 789.7 586 C787.9 588.5 785.5 592.2 784.8 594.7 C784 597.2 785 598.9 785.2 601 C785.4 603.1 786.1 604.6 786 607.1 C785.9 609.6 786 613.3 784.8 615.8 C783.6 618.3 781.3 620.8 778.6 622 C775.9 623.2 771.3 624.1 768.6 623.3 C765.9 622.5 764 620.6 762.4 617.1 C760.8 613.6 759.9 607.8 759.3 602.2 C758.7 596.6 758.4 588.4 758.7 583.6 Z" stroke-width="1.95" fill="#fff" />
<path d="M765.5 571.5 C765 572.9 763.4 576.6 762.8 580 C762.2 583.4 762 587.7 762 592 C762 596.3 762.2 601.4 763 606 C763.8 610.6 765.9 617.2 766.5 619.5" stroke-width="1.26" fill="none" />
<line x1="787.2" y1="568.7" x2="797.4" y2="578.2" stroke-width="1.49" />
<line x1="785" y1="571" x2="795.3" y2="580.6" stroke-width="1.26" />
<path d="M762 584 L768 583 L768.5 591 L762.5 592 Z" stroke-width="1.38" fill="none" />
<line x1="762.5" y1="591.5" x2="768" y2="583.5" stroke-width="1.15" />
<path d="M763.5 609 L769.5 608 L770.5 617 L765.5 618.5 Z" stroke-width="1.38" fill="none" />
<line x1="765.5" y1="595" x2="767" y2="607" stroke-width="2.99" stroke="#333" stroke-dasharray="2 1.2"/>
<line x1="763" y1="600" x2="769.5" y2="599" stroke-width="1.38" />
<path d="M772 585 C772.6 586.2 774.7 589.3 775.5 592 C776.3 594.7 776.5 597.7 777 601 C777.5 604.3 778.2 610.2 778.5 612" stroke-width="3.68" fill="none" stroke="#333" stroke-dasharray="1.3 1.3" stroke-linecap="butt"/>
</g>
</svg>
</body></html>
